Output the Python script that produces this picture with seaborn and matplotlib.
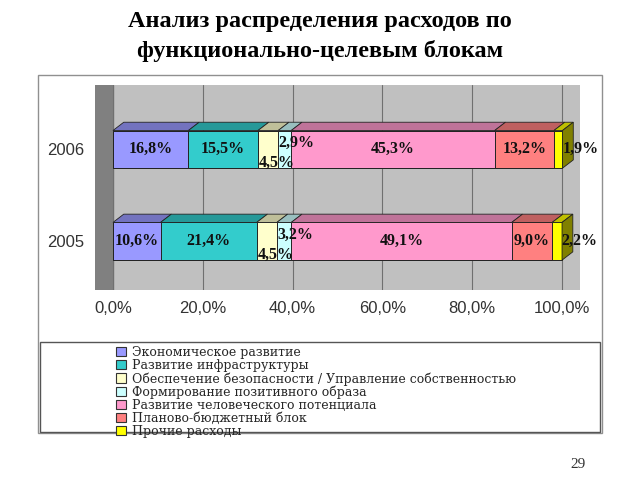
import numpy as np
import pandas as pd
import matplotlib.pyplot as plt
import seaborn as sns
import matplotlib.colors as mcolors
from matplotlib.patches import Polygon, Rectangle
from matplotlib.ticker import FuncFormatter

years = ['2006', '2005']
blocks = ['Экономическое развитие',
          'Развитие инфраструктуры',
          'Обеспечение безопасности / Управление собственностью',
          'Формирование позитивного образа',
          'Развитие человеческого потенциала',
          'Планово-бюджетный блок',
          'Прочие расходы']
shares_2006 = [16.8, 15.5, 4.5, 2.9, 45.3, 13.2, 1.9]
shares_2005 = [10.6, 21.4, 4.5, 3.2, 49.1, 9.0, 2.2]
colors = ['#9999FF', '#33CCCC', '#FFFFCC', '#CCFFFF', '#FF99CC', '#FF8080', '#FFFF00']

# label nudges for the thin segments (x in %, y in category units)
nudge = [(0, 0), (0, 0), (2, 0.15), (2.5, -0.07), (0, 0), (0, 0), (5, 0)]

rows = []
for y, vals in zip(years, [shares_2006, shares_2005]):
    cum = np.cumsum(vals)
    for b, v, c in zip(blocks, vals, cum):
        rows.append({'year': y, 'block': b, 'share': v, 'cum': c, 'start': c - v})
df = pd.DataFrame(rows)

sns.set_style('white')
plt.rcParams['font.family'] = ['Liberation Serif', 'DejaVu Serif']

fig = plt.figure(figsize=(6.4, 4.8), dpi=100)
ax = fig.add_axes([95 / 640, 1 - 290 / 480, 485 / 640, 205 / 480])
ax.set_facecolor('#C0C0C0')
ax.axvspan(-4, 0, color='#808080', zorder=0)

bw = 0.41
for i in reversed(range(len(blocks))):
    sub = df[df.block == blocks[i]]
    sns.barplot(data=sub, x='cum', y='year', order=years, orient='h',
                color=colors[i], saturation=1, width=bw, errorbar=None,
                edgecolor='#222222', linewidth=0.7, ax=ax, zorder=3)

# pseudo-3D top faces
dx, dy = 2.4, 0.09
for j, y in enumerate(years):
    sub = df[df.year == y].reset_index(drop=True)
    top = j - bw / 2
    for i, r in sub.iterrows():
        shade = tuple(np.array(mcolors.to_rgb(colors[i])) * 0.75)
        poly = Polygon([(r.start, top), (r.cum, top), (r.cum + dx, top - dy), (r.start + dx, top - dy)],
                       closed=True, facecolor=shade, edgecolor='#222222', linewidth=0.6, zorder=4)
        ax.add_patch(poly)
    end = sub.cum.iloc[-1]
    side = Polygon([(end, top), (end + dx, top - dy), (end + dx, top - dy + bw), (end, top + bw)],
                   closed=True, facecolor='#808000', edgecolor='#222222', linewidth=0.6, zorder=4)
    ax.add_patch(side)
    for i, r in sub.iterrows():
        ax.text((r.start + r.cum) / 2 + nudge[i][0], j + nudge[i][1],
                f"{r.share:.1f}%".replace('.', ','), ha='center', va='center',
                fontsize=11.5, fontweight='bold', color='#111111', zorder=6)

ax.set_xlim(-4, 104)
ax.set_ylim(1.53, -0.70)
ax.set_xticks([0, 20, 40, 60, 80, 100])
ax.xaxis.set_major_formatter(FuncFormatter(lambda v, _: f"{v:.1f}%".replace('.', ',')))
ax.grid(axis='x', color='#707070', linewidth=0.8, zorder=1)
ax.set_axisbelow(True)
for s in ax.spines.values():
    s.set_visible(False)
ax.set_xlabel('')
ax.set_ylabel('')
ax.tick_params(axis='both', length=0, labelsize=12, labelcolor='#333333', pad=8)
for t in ax.get_xticklabels() + ax.get_yticklabels():
    t.set_family(['Liberation Sans', 'DejaVu Sans'])

# frames
fig.patches.append(Rectangle((38 / 640, 1 - 433 / 480), 564 / 640, 358 / 480,
                             transform=fig.transFigure, fill=False, edgecolor='#909090', linewidth=1))
fig.patches.append(Rectangle((40 / 640, 1 - 432 / 480), 560 / 640, 90 / 480,
                             transform=fig.transFigure, fill=False, edgecolor='#555555', linewidth=1))

handles = [Rectangle((0, 0), 1, 1, facecolor=c, edgecolor='#333333', linewidth=0.8) for c in colors]
fig.legend(handles, blocks, loc='upper left', bbox_to_anchor=(116 / 640, 1 - 346 / 480),
           frameon=False, labelspacing=0, handlelength=0.8, handleheight=0.8,
           handletextpad=0.5, borderpad=0, borderaxespad=0,
           prop={'family': 'DejaVu Serif', 'size': 9})

fig.text(0.5, 1 - 21 / 480, 'Анализ распределения расходов по', ha='center', va='center',
         fontsize=17.5, fontweight='bold', color='black')
fig.text(0.5, 1 - 51 / 480, 'функционально-целевым блокам', ha='center', va='center',
         fontsize=17.5, fontweight='bold', color='black')
fig.text(578 / 640, 1 - 465 / 480, '29', ha='center', va='center', fontsize=11, color='#333333')

fig.savefig('out.png', dpi=100)
